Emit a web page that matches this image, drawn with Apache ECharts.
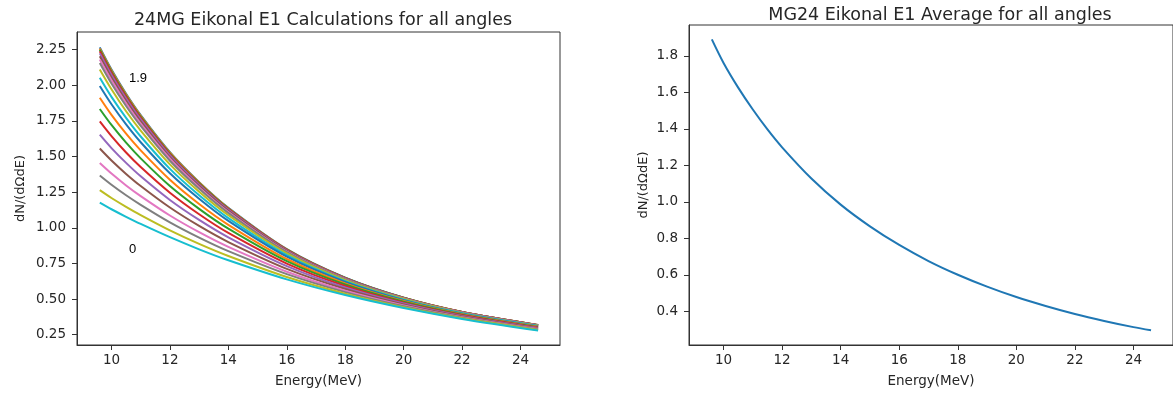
<!DOCTYPE html>
<html>
<head>
<meta charset="utf-8">
<title>Mg24 Eikonal E1</title>
<script src="https://cdn.jsdelivr.net/npm/echarts@6/dist/echarts.min.js"></script>
<style>
  html, body { margin: 0; padding: 0; background: #fff; }
  #chart { width: 1173px; height: 396px; }
</style>
</head>
<body>
<div id="chart"></div>
<script>
// energies (MeV) where the per-angle curves were read
const energies = [9.6, 10, 10.5, 11, 12, 13, 14, 16, 18, 20, 22, 24.6];

// one curve per angle, 0 .. 1.9 (bottom to top)
const angle00 = [1.176, 1.130, 1.077, 1.027, 0.934, 0.849, 0.772, 0.638, 0.528, 0.437, 0.361, 0.280];
const angle01 = [1.264, 1.209, 1.147, 1.089, 0.982, 0.887, 0.802, 0.655, 0.538, 0.443, 0.365, 0.283];
const angle02 = [1.367, 1.302, 1.228, 1.161, 1.038, 0.931, 0.836, 0.675, 0.549, 0.450, 0.370, 0.287];
const angle03 = [1.454, 1.380, 1.297, 1.222, 1.086, 0.969, 0.866, 0.692, 0.559, 0.456, 0.373, 0.290];
const angle04 = [1.556, 1.472, 1.378, 1.293, 1.142, 1.013, 0.900, 0.712, 0.571, 0.462, 0.378, 0.293];
const angle05 = [1.653, 1.559, 1.455, 1.361, 1.195, 1.055, 0.933, 0.731, 0.581, 0.469, 0.382, 0.297];
const angle06 = [1.746, 1.643, 1.528, 1.426, 1.246, 1.095, 0.964, 0.749, 0.592, 0.475, 0.387, 0.300];
const angle07 = [1.833, 1.721, 1.597, 1.487, 1.293, 1.133, 0.994, 0.766, 0.602, 0.481, 0.391, 0.303];
const angle08 = [1.912, 1.792, 1.660, 1.543, 1.337, 1.167, 1.021, 0.781, 0.610, 0.486, 0.394, 0.306];
const angle09 = [1.994, 1.866, 1.725, 1.600, 1.382, 1.203, 1.048, 0.797, 0.620, 0.492, 0.398, 0.309];
const angle10 = [2.052, 1.918, 1.771, 1.640, 1.413, 1.228, 1.068, 0.808, 0.626, 0.496, 0.400, 0.311];
const angle11 = [2.110, 1.971, 1.817, 1.682, 1.445, 1.253, 1.088, 0.820, 0.633, 0.500, 0.403, 0.313];
const angle12 = [2.156, 2.012, 1.854, 1.714, 1.470, 1.273, 1.103, 0.829, 0.638, 0.503, 0.405, 0.314];
const angle13 = [2.180, 2.034, 1.873, 1.730, 1.484, 1.283, 1.111, 0.833, 0.640, 0.504, 0.406, 0.315];
const angle14 = [2.203, 2.054, 1.891, 1.747, 1.496, 1.293, 1.119, 0.838, 0.643, 0.506, 0.407, 0.316];
const angle15 = [2.223, 2.072, 1.906, 1.760, 1.507, 1.302, 1.126, 0.842, 0.645, 0.507, 0.408, 0.317];
const angle16 = [2.238, 2.086, 1.918, 1.771, 1.515, 1.308, 1.131, 0.845, 0.647, 0.508, 0.409, 0.317];
const angle17 = [2.248, 2.094, 1.926, 1.778, 1.520, 1.312, 1.134, 0.847, 0.648, 0.509, 0.409, 0.317];
const angle18 = [2.257, 2.103, 1.934, 1.785, 1.526, 1.317, 1.137, 0.849, 0.649, 0.509, 0.410, 0.318];
const angle19 = [2.265, 2.110, 1.940, 1.790, 1.530, 1.320, 1.140, 0.850, 0.650, 0.510, 0.410, 0.318];

// average over all angles (right panel)
const avgEnergies = [9.6, 10, 10.5, 11, 11.5, 12, 13, 14, 15, 16, 17, 18, 19, 20, 21, 22, 23, 24, 24.6];
const avgValues = [1.89, 1.761, 1.626, 1.506, 1.397, 1.299, 1.128, 0.985, 0.866, 0.764, 0.676, 0.601, 0.536, 0.479, 0.430, 0.386, 0.348, 0.314, 0.297];

// tick labels
const xTicks = [10, 12, 14, 16, 18, 20, 22, 24];
const leftYTicks = [0.25, 0.5, 0.75, 1.0, 1.25, 1.5, 1.75, 2.0, 2.25];
const rightYTicks = [0.4, 0.6, 0.8, 1.0, 1.2, 1.4, 1.6, 1.8];

// text annotations on the left panel: [x, y, text]
const annotations = [[10.6, 2.0, '1.9'], [10.6, 0.8, '0']];

const tab10 = ['#1f77b4', '#ff7f0e', '#2ca02c', '#d62728', '#9467bd',
               '#8c564b', '#e377c2', '#7f7f7f', '#bcbd22', '#17becf'];

// drawn top curve first, so the colour cycle starts at the top
const angleCurves = [angle19, angle18, angle17, angle16, angle15, angle14, angle13,
  angle12, angle11, angle10, angle09, angle08, angle07, angle06, angle05,
  angle04, angle03, angle02, angle01, angle00];

const chart = echarts.init(document.getElementById('chart'), null, { renderer: 'canvas' });

const font = 'DejaVu Sans';
const ink = '#262626';

function xAxisFor(gridIndex) {
  return {
    type: 'value',
    gridIndex: gridIndex,
    min: 8.82,
    max: 25.35,
    name: 'Energy(MeV)',
    nameLocation: 'middle',
    nameGap: 29,
    nameTextStyle: { fontFamily: font, fontSize: 13.5, color: ink },
    axisLine: { show: true, onZero: false, lineStyle: { color: '#333', width: 1 } },
    axisTick: { show: true, customValues: xTicks, length: 5, lineStyle: { color: '#333' } },
    axisLabel: { customValues: xTicks, fontFamily: font, fontSize: 13.5, color: ink, margin: 8 },
    splitLine: { show: false }
  };
}

function yAxisFor(gridIndex, min, max, ticks, gap, fmt) {
  return {
    type: 'value',
    gridIndex: gridIndex,
    min: min,
    max: max,
    name: 'dN/(dΩdE)',
    nameLocation: 'middle',
    nameGap: gap,
    nameTextStyle: { fontFamily: font, fontSize: 13, color: ink },
    axisLine: { show: true, onZero: false, lineStyle: { color: '#333', width: 1 } },
    axisTick: { show: true, customValues: ticks, length: 5, lineStyle: { color: '#333' } },
    axisLabel: { customValues: ticks, fontFamily: font, fontSize: 13.5, color: ink, margin: 11,
                 formatter: v => v.toFixed(fmt) },
    splitLine: { show: false }
  };
}

const series = angleCurves.map((vals, k) => ({
  type: 'line',
  xAxisIndex: 0,
  yAxisIndex: 0,
  data: energies.map((e, i) => [e, vals[i]]),
  showSymbol: false,
  smooth: 0.3,
  lineStyle: { width: 2, color: tab10[k % 10] },
  itemStyle: { color: tab10[k % 10] },
  silent: true
}));

series.push({
  type: 'scatter',
  xAxisIndex: 0,
  yAxisIndex: 0,
  symbolSize: 0,
  silent: true,
  data: annotations,
  label: {
    show: true,
    position: [0, 0],
    align: 'left',
    verticalAlign: 'bottom',
    formatter: p => p.data[2],
    fontFamily: 'Liberation Sans',
    fontSize: 13,
    color: '#000',
    opacity: 1,
    textBorderWidth: 0
  },
  itemStyle: { color: '#000', opacity: 1 },
  z: 5
});

series.push({
  type: 'line',
  xAxisIndex: 1,
  yAxisIndex: 1,
  data: avgEnergies.map((e, i) => [e, avgValues[i]]),
  showSymbol: false,
  smooth: 0.3,
  lineStyle: { width: 2, color: '#1f77b4' },
  silent: true
});

const option = {
  animation: false,
  backgroundColor: '#fff',
  title: [
    {
      text: '24MG Eikonal E1 Calculations for all angles',
      left: 318,
      top: 6,
      textAlign: 'center',
      textStyle: { fontFamily: font, fontSize: 17.5, fontWeight: 'normal', color: ink }
    },
    {
      text: 'MG24 Eikonal E1 Average for all angles',
      left: 935,
      top: 1,
      textAlign: 'center',
      textStyle: { fontFamily: font, fontSize: 17.5, fontWeight: 'normal', color: ink }
    }
  ],
  grid: [
    { left: 77, top: 32, width: 483, height: 313, show: true, borderColor: '#333', borderWidth: 1 },
    { left: 689, top: 25, width: 493, height: 320, show: true, borderColor: '#333', borderWidth: 1 }
  ],
  xAxis: [xAxisFor(0), xAxisFor(1)],
  yAxis: [
    yAxisFor(0, 0.178, 2.373, leftYTicks, 50, 2),
    yAxisFor(1, 0.216, 1.969, rightYTicks, 39, 1)
  ],
  series: series
};

chart.setOption(option);
</script>
</body>
</html>
